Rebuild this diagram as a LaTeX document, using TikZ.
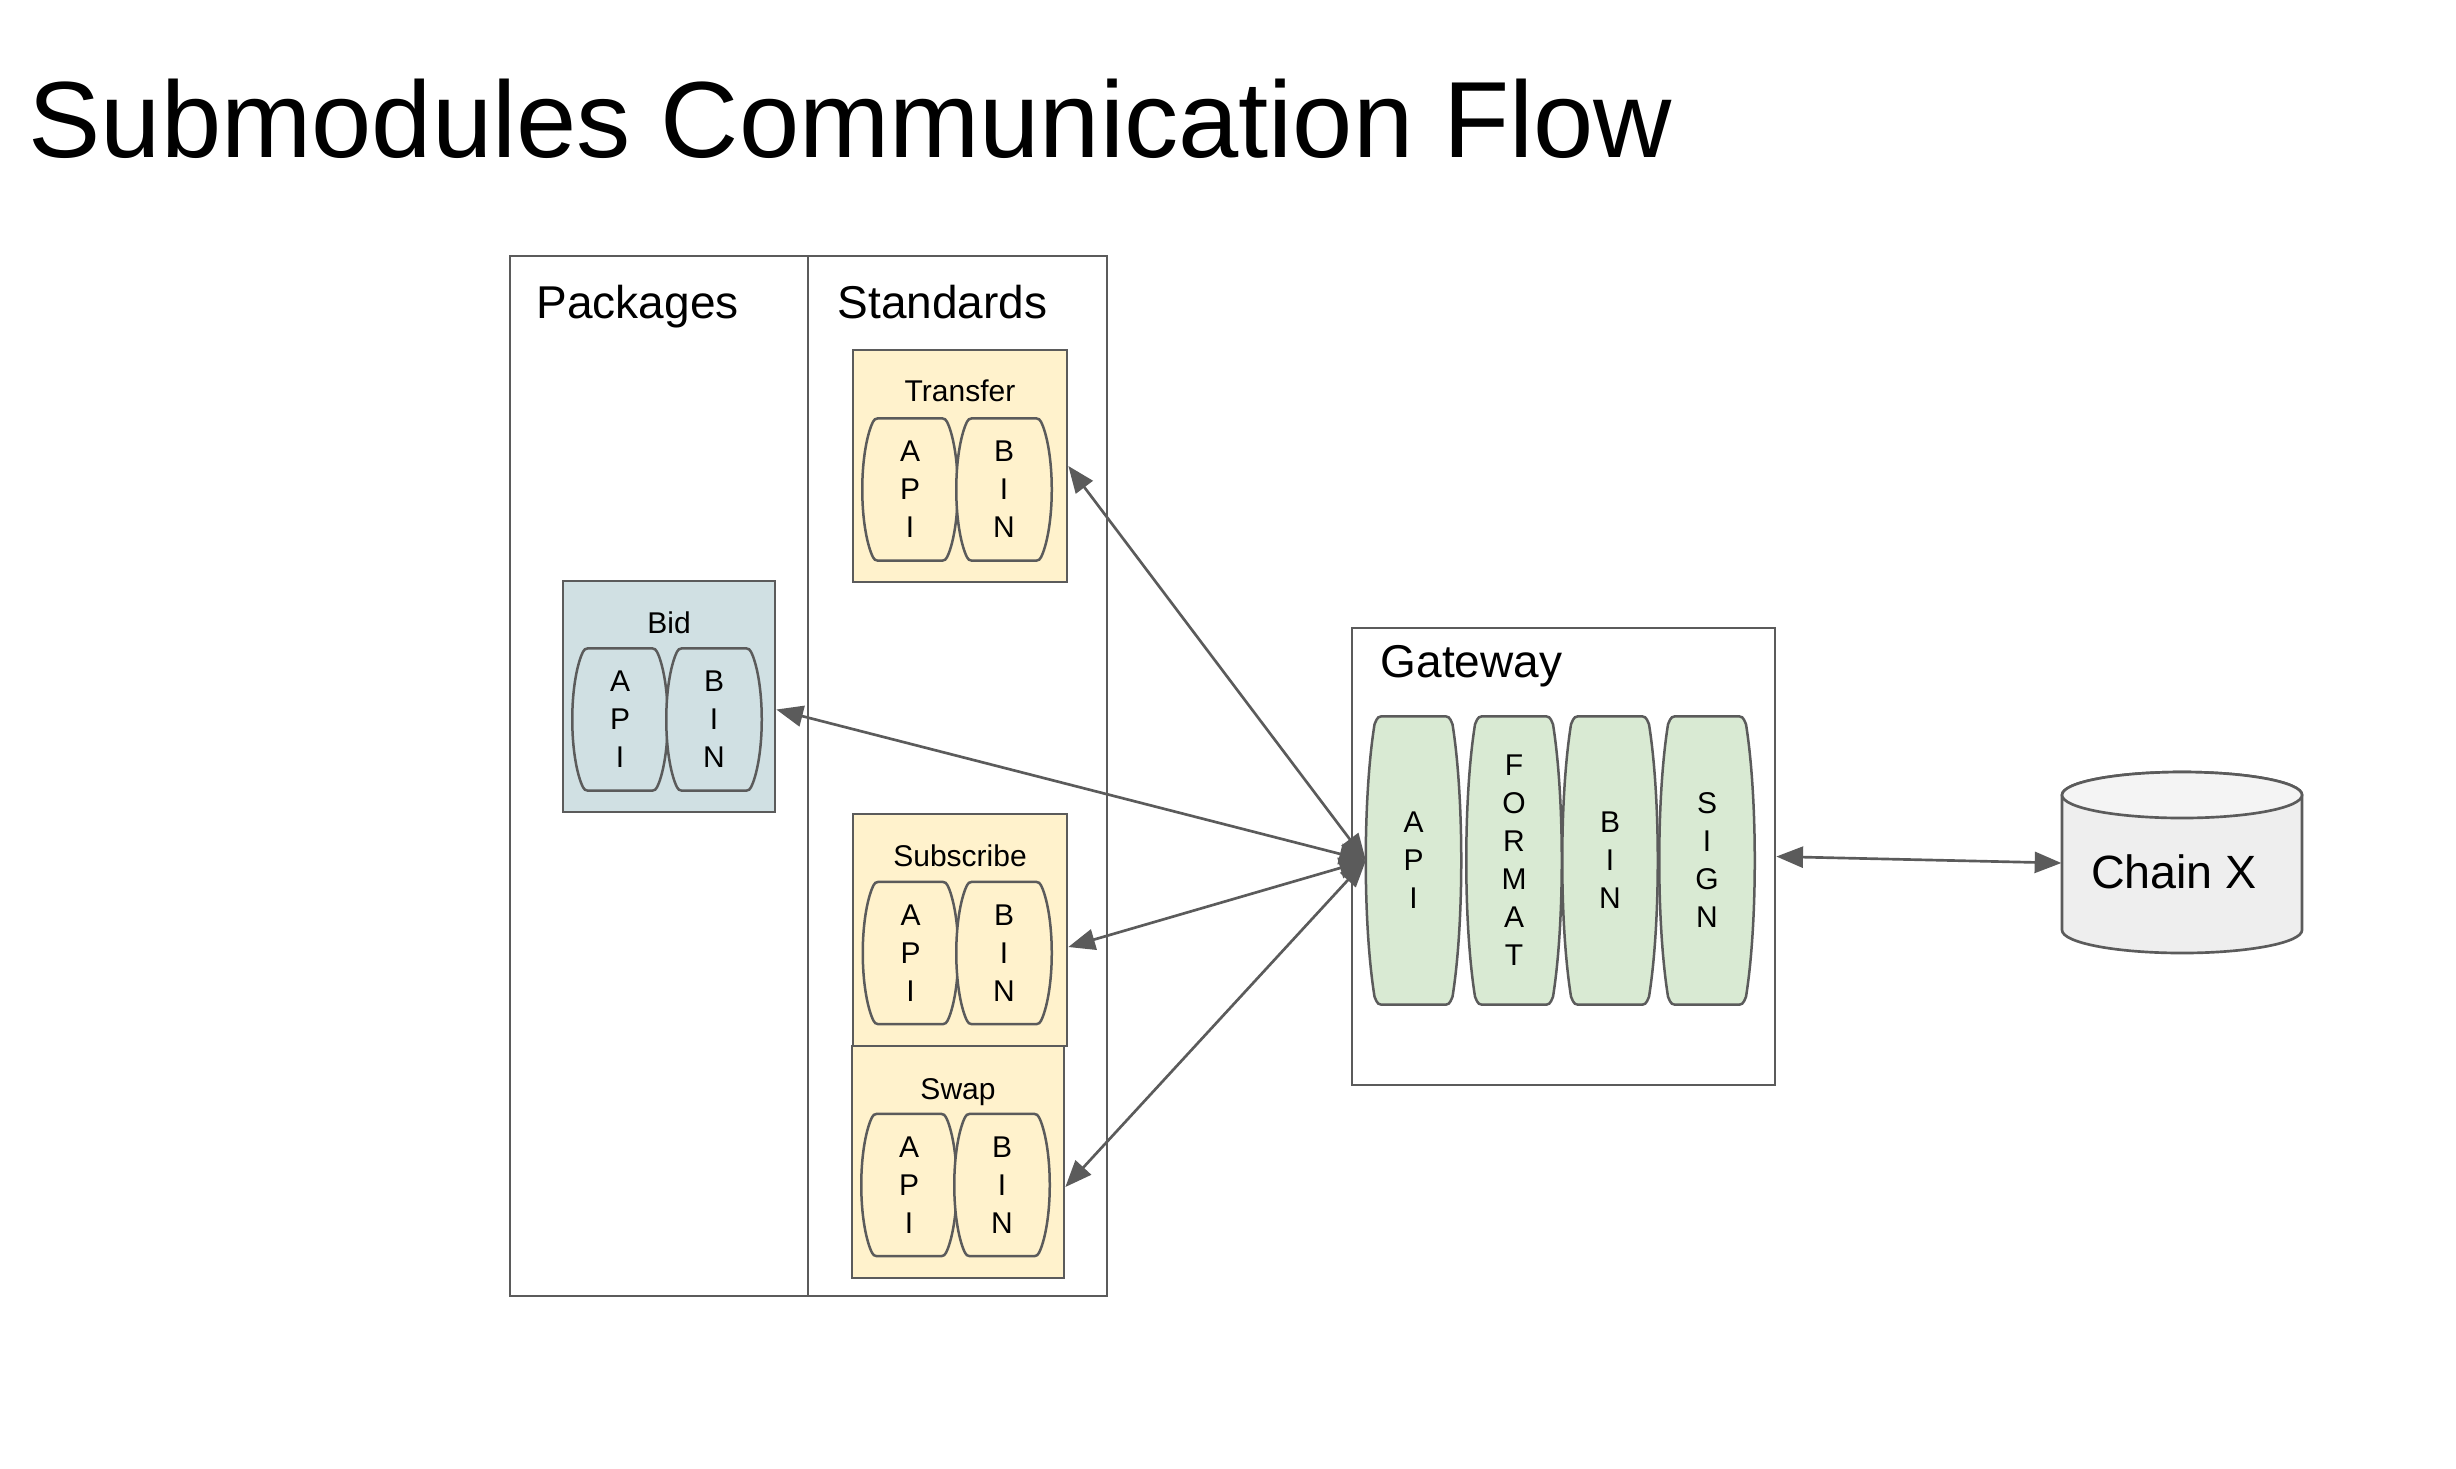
\documentclass[tikz,border=0pt]{standalone}
\usepackage{fontspec}
\setmainfont{Liberation Sans}
\usetikzlibrary{arrows.meta,calc}
\definecolor{lg}{HTML}{5B5B5B}
\definecolor{yfill}{HTML}{FFF2CC}
\definecolor{bfill}{HTML}{D0E0E3}
\definecolor{gfill}{HTML}{D9EAD3}
\definecolor{cbody}{HTML}{EEEEEE}
\definecolor{ctop}{HTML}{F4F4F4}
\pgfdeclarelayer{back}
\pgfdeclarelayer{mid}
\pgfsetlayers{back,mid,main}
\newcommand\pillpath[2]{%
\begin{pgfonlayer}{mid}
\draw[draw=lg, line width=0.75pt, fill=#2] let \p1=(#1.north west), \p2=(#1.south east) in
 ({\x1+5.8},\y1) -- ({\x2-5.8},\y1)
 .. controls ({\x2-3.6},\y1) .. ({\x2-2.6},{\y1-2.4})
 .. controls ({\x2+0.9},{0.72*\y1+0.28*\y2}) and ({\x2+0.9},{0.28*\y1+0.72*\y2}) .. ({\x2-2.6},{\y2+2.4})
 .. controls ({\x2-3.6},\y2) .. ({\x2-5.8},\y2)
 -- ({\x1+5.8},\y2)
 .. controls ({\x1+3.6},\y2) .. ({\x1+2.6},{\y2+2.4})
 .. controls ({\x1-0.9},{0.28*\y1+0.72*\y2}) and ({\x1-0.9},{0.72*\y1+0.28*\y2}) .. ({\x1+2.6},{\y1-2.4})
 .. controls ({\x1+3.6},\y1) .. ({\x1+5.8},\y1) -- cycle;
\end{pgfonlayer}}
\begin{document}
\begin{tikzpicture}[x=0.3pt,y=-0.3pt,
  frame/.style={draw=lg, line width=0.8pt, fill=white, inner sep=0, rectangle},
  modbox/.style={draw=lg, line width=0.8pt, inner sep=0, rectangle},
  pill/.style={inner sep=0, minimum width=28.2pt, minimum height=42.3pt, align=center, font=\fontsize{9}{11.4}\selectfont},
  gpill/.style={pill, minimum height=86.1pt},
  seclabel/.style={anchor=base west, inner sep=0, font=\fontsize{13.8}{16}\selectfont},
  modlabel/.style={anchor=base, inner sep=0, font=\fontsize{9}{11}\selectfont},
  conn/.style={draw=lg, line width=0.8pt, {Triangle[length=8pt,width=6.3pt]}-{Triangle[length=8pt,width=6.3pt]}}]
\useasboundingbox (0,0) rectangle (2456,1468);
\begin{pgfonlayer}{back}
\fill[white] (0,0) rectangle (2456,1468);
\node[frame, minimum width=89.4pt, minimum height=312pt] (pkg) at (659,776) {};
\node[frame, minimum width=89.7pt, minimum height=312pt] (std) at (957.5,776) {};
\node[frame, minimum width=126.9pt, minimum height=137.1pt] (gw) at (1563.5,856.5) {};
\node[modbox, fill=yfill, minimum width=64.2pt, minimum height=69.6pt] (tr) at (960,466) {};
\node[modbox, fill=bfill, minimum width=63.6pt, minimum height=69.3pt] (bid) at (669,696.5) {};
\node[modbox, fill=yfill, minimum width=64.2pt, minimum height=69.6pt] (sub) at (960,930) {};
\node[modbox, fill=yfill, minimum width=63.6pt, minimum height=69.6pt] (swp) at (958,1162) {};
\end{pgfonlayer}

\node[anchor=base west, inner sep=0, font=\fontsize{32.5}{40}\selectfont] (title) at (28,157) {Submodules Communication Flow};
\node[seclabel] (pkgl) at (536,318) {Packages};
\node[seclabel] (stdl) at (837,318) {Standards};
\node[seclabel] (gwl) at (1380,677) {Gateway};

\node[modlabel] (trl) at (960,401) {Transfer};
\node[modlabel] (bidl) at (669,633) {Bid};
\node[modlabel] (subl) at (960,866) {Subscribe};
\node[modlabel] (swpl) at (958,1099) {Swap};

\node[pill] (tapi) at (910,489.5) {A\\P\\I};
\node[pill] (tbin) at (1004,489.5) {B\\I\\N};
\node[pill] (bapi) at (620,719.5) {A\\P\\I};
\node[pill] (bbin) at (714,719.5) {B\\I\\N};
\node[pill] (sapi) at (910.5,953) {A\\P\\I};
\node[pill] (sbin) at (1004,953) {B\\I\\N};
\node[pill] (wapi) at (909,1185) {A\\P\\I};
\node[pill] (wbin) at (1002,1185) {B\\I\\N};
\node[gpill] (gapi) at (1413.5,860.5) {A\\P\\I};
\node[gpill] (gfmt) at (1514,860.5) {F\\O\\R\\M\\A\\T};
\node[gpill] (gbin) at (1610,860.5) {B\\I\\N};
\node[gpill] (gsign) at (1707,860.5) {S\\I\\G\\N};

\pillpath{tapi}{yfill}\pillpath{tbin}{yfill}
\pillpath{bapi}{bfill}\pillpath{bbin}{bfill}
\pillpath{sapi}{yfill}\pillpath{sbin}{yfill}
\pillpath{wapi}{yfill}\pillpath{wbin}{yfill}
\pillpath{gapi}{gfill}\pillpath{gfmt}{gfill}\pillpath{gbin}{gfill}\pillpath{gsign}{gfill}

% Chain X cylinder
\node[inner sep=0, minimum width=72pt, minimum height=54.6pt] (chain) at (2182,863) {};
\draw[draw=lg, line width=0.8pt, fill=cbody] (2062,795) -- (2062,930) arc (180:0:120 and 23) -- (2302,795) arc (0:-180:120 and 23) -- cycle;
\draw[draw=lg, line width=0.8pt, fill=ctop] (2182,795) ellipse (120 and 23);
\node[inner sep=0, font=\fontsize{14}{16}\selectfont] (chainl) at (2174,872) {Chain X};

\draw[conn] (tr.east) -- (gapi.west);
\draw[conn] ($(bid.east)+(0,13)$) -- (gapi.west);
\draw[conn] ($(sub.east)+(0,17)$) -- (gapi.west);
\draw[conn] ($(swp.east)+(0,25)$) -- (gapi.west);
\draw[conn] (gw.east) -- (chain.west);
\end{tikzpicture}
\end{document}
